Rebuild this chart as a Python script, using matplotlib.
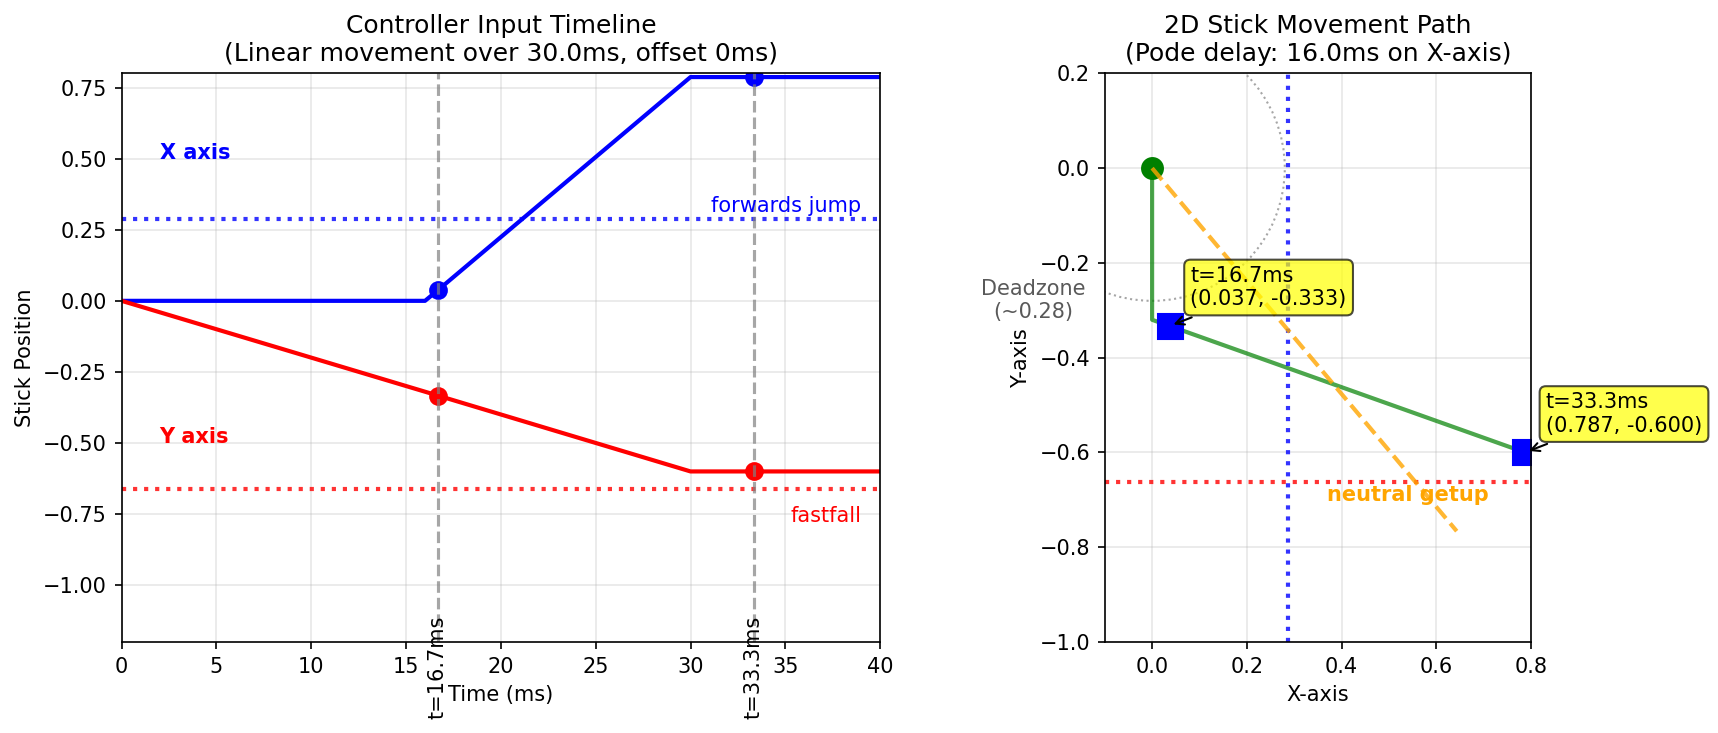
import numpy as np
import matplotlib
matplotlib.use("Agg")
import matplotlib.pyplot as plt

# timeline data (ms, stick value)
x_time = [0, 16.0, 16.67, 30.0, 40.0]
x_vals = [0.0, 0.0, 0.037, 0.787, 0.787]
y_time = [0, 16.67, 30.0, 40.0]
y_vals = [0.0, -0.333, -0.600, -0.600]

sample_times = [16.67, 33.33]
sample_labels = ["t=16.7ms", "t=33.3ms"]
sample_x = [0.037, 0.787]
sample_y = [-0.333, -0.600]

# 2D path
path_x = [0.0, 0.0, 0.037, 0.787]
path_y = [0.0, -0.32, -0.333, -0.600]

fwd_jump = 0.2875
fastfall = -0.6625
deadzone = 0.28
getup_angle = -50  # degrees

fig = plt.figure(figsize=(1718 / 150, 733 / 150), dpi=150)
ax1 = fig.add_axes([0.0708, 0.1241, 0.4415, 0.7758])
ax2 = fig.add_axes([0.6428, 0.1241, 0.2487, 0.7758])

# ---- left: timeline ----
ax1.plot(x_time, x_vals, color='blue', lw=2)
ax1.plot(y_time, y_vals, color='red', lw=2)
ax1.plot(sample_times, sample_x, 'o', color='blue', ms=8)
ax1.plot(sample_times, sample_y, 'o', color='red', ms=8)

ax1.axhline(fwd_jump, color='blue', ls=':', lw=2, alpha=0.8)
ax1.axhline(fastfall, color='red', ls=':', lw=2, alpha=0.8)
ax1.text(39, fwd_jump + 0.01, 'forwards jump', color='blue', fontsize=10,
         ha='right', va='bottom')
ax1.text(39, -0.755, 'fastfall', color='red', fontsize=10, ha='right', va='center')

for t, lab in zip(sample_times, sample_labels):
    ax1.axvline(t, color='gray', ls='--', alpha=0.7, lw=1.5)
    ax1.text(t, -1.289, lab, rotation=90, ha='center', va='center', fontsize=10,
             clip_on=False)

ax1.text(2, 0.5, 'X axis', color='blue', fontweight='bold', fontsize=10)
ax1.text(2, -0.5, 'Y axis', color='red', fontweight='bold', fontsize=10)

ax1.set_xlim(0, 40)
ax1.set_ylim(-1.2, 0.8)
ax1.set_xlabel('Time (ms)')
ax1.set_ylabel('Stick Position')
ax1.set_title('Controller Input Timeline\n(Linear movement over 30.0ms, offset 0ms)')
ax1.grid(True, alpha=0.3)

# ---- right: 2D path ----
circle = plt.Circle((0, 0), deadzone, fill=False, ls=':', color='gray', alpha=0.7, lw=1)
ax2.add_patch(circle)
ax2.text(-0.25, -0.28, 'Deadzone\n(~0.28)', color='0.35', fontsize=10,
         ha='center', va='center', clip_on=False)

ax2.plot(path_x, path_y, color='green', lw=2, alpha=0.7)
ax2.plot(0, 0, 'o', color='green', ms=10)
ax2.plot(sample_x, sample_y, 's', color='blue', ms=12)

ax2.axvline(fwd_jump, color='blue', ls=':', lw=2, alpha=0.8)
ax2.axhline(fastfall, color='red', ls=':', lw=2, alpha=0.8)

ang = np.radians(getup_angle)
ax2.plot([0, np.cos(ang)], [0, np.sin(ang)], color='orange', ls='--', lw=2, alpha=0.8)
ax2.text(0.54, -0.69, 'neutral getup', color='orange', fontweight='bold',
         fontsize=10, ha='center', va='center')

for lab, px, py in zip(sample_labels, sample_x, sample_y):
    ax2.annotate(f'{lab}\n({px:.3f}, {py:.3f})', xy=(px, py), xytext=(10, 10),
                 textcoords='offset points', fontsize=10,
                 bbox=dict(boxstyle='round,pad=0.3', facecolor='yellow', alpha=0.7),
                 arrowprops=dict(arrowstyle='->', color='black'),
                 annotation_clip=False)

ax2.set_xlim(-0.1, 0.8)
ax2.set_ylim(-1.0, 0.2)
ax2.set_aspect('equal')
ax2.set_xlabel('X-axis')
ax2.set_ylabel('Y-axis')
ax2.set_title('2D Stick Movement Path\n(Pode delay: 16.0ms on X-axis)')
ax2.grid(True, alpha=0.3)

fig.savefig('out.png', dpi=150)
